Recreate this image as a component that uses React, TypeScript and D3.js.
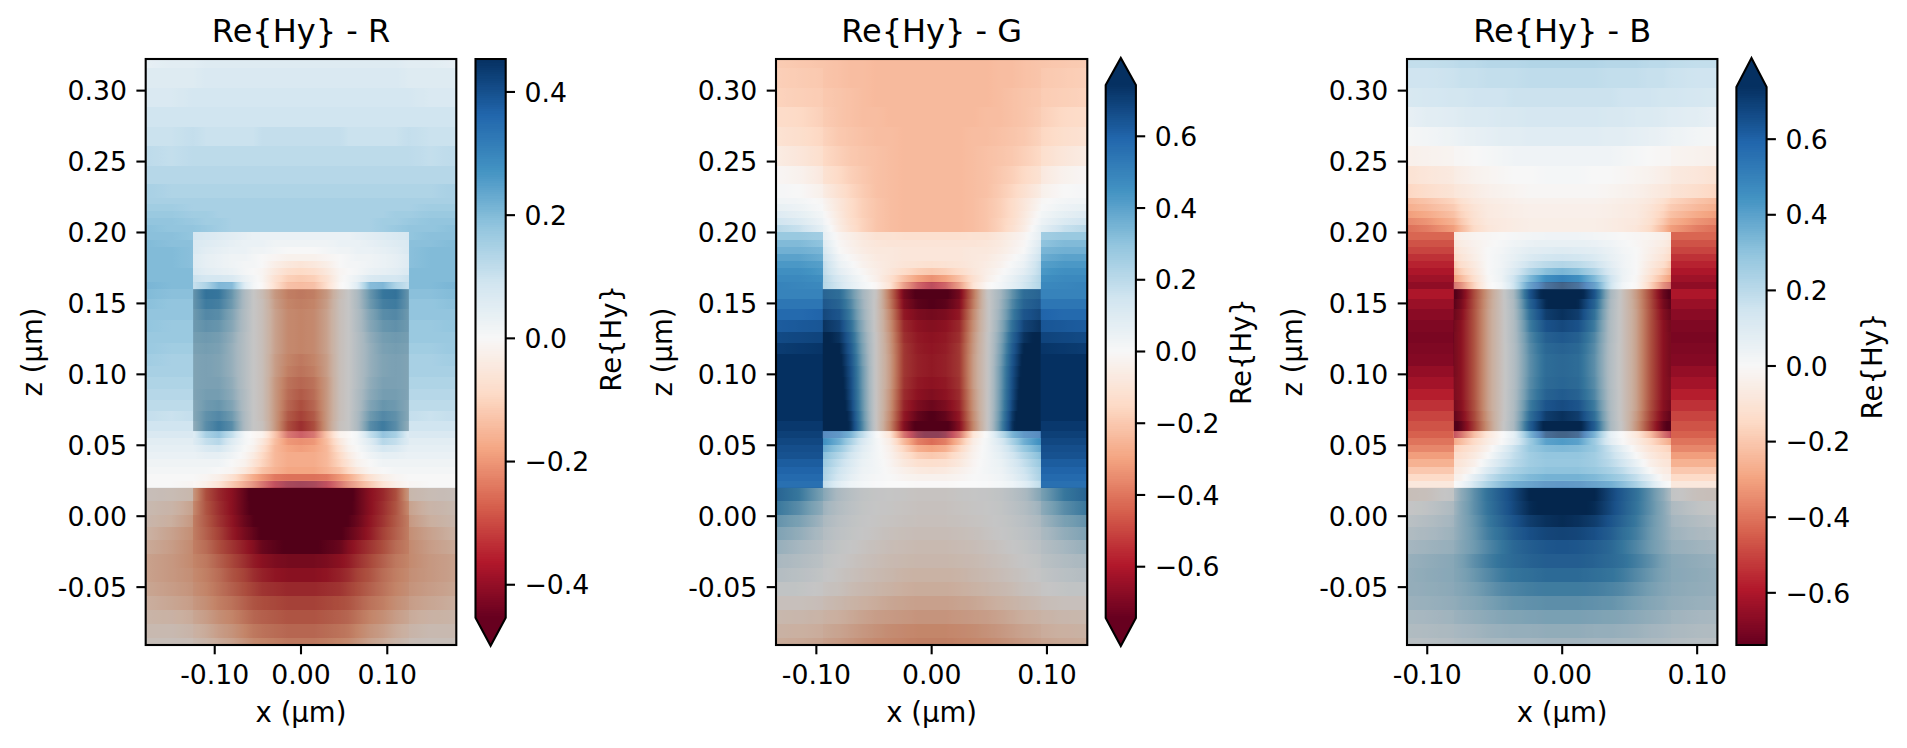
import React from "react";
import * as d3 from "d3";

// ---------- DATA (field values, in hundredths of Re{Hy}) ----------
const titles = ["Re{Hy} - R", "Re{Hy} - G", "Re{Hy} - B"];
const yTicks = [0.3, 0.25, 0.2, 0.15, 0.1, 0.05, 0, -0.05];
const xTicks = [-0.1, 0, 0.1];
const rBarTicks = [0.4, 0.2, 0, -0.2, -0.4];
const gBarTicks = [0.6, 0.4, 0.2, 0, -0.2, -0.4, -0.6];
const bBarTicks = [0.6, 0.4, 0.2, 0, -0.2, -0.4, -0.6];
const rdBu = ["#67001f", "#b2182b", "#d6604d", "#f4a582", "#fddbc7", "#f7f7f7", "#d1e5f0", "#92c5de", "#4393c3", "#2166ac", "#053061"];

// z cell edges, top to bottom (µm)
const zEdges = [
  0.3223, 0.316, 0.302, 0.2885, 0.2745, 0.261, 0.247, 0.234, 0.2245,
  0.22, 0.215, 0.21, 0.205, 0.2,
  0.195, 0.19, 0.185, 0.18, 0.175, 0.17, 0.165, 0.16,
  0.153, 0.146, 0.138, 0.13, 0.122, 0.114, 0.106, 0.098, 0.09, 0.082, 0.074, 0.067, 0.06,
  0.055, 0.05, 0.045, 0.04, 0.035, 0.03, 0.025, 0.02,
  0.0108, 0.001, -0.0075, -0.0168, -0.0267, -0.0365, -0.0464, -0.0563, -0.0661, -0.076, -0.0858, -0.0908,
];
// thin pale bands at the layer interfaces inside the pillar (z from, z to)
const tintBands = [[0.165, 0.16], [0.06, 0.055], [0.025, 0.02]];

// |x| sample positions, the repeated one is the pillar side wall (µm)
const rColumns = [0, 0.015, 0.03, 0.045, 0.055, 0.065, 0.08, 0.095, 0.11, 0.125, 0.125, 0.15, 0.18];
const gColumns = [0, 0.012, 0.024, 0.036, 0.048, 0.06, 0.07, 0.08, 0.0945, 0.0945, 0.115, 0.135];
const bColumns = [0, 0.012, 0.024, 0.036, 0.045, 0.055, 0.065, 0.075, 0.0805, 0.0805, 0.1, 0.115];

const rField = [
  [6, 6, 6, 6, 6, 6, 6, 6, 6, 5, 5, 5, 4],
  [7, 7, 7, 7, 7, 7, 7, 7, 7, 6, 6, 6, 6],
  [8, 8, 8, 8, 8, 8, 8, 8, 8, 8, 8, 7, 7],
  [9, 9, 9, 9, 9, 9, 9, 9, 9, 9, 9, 9, 9],
  [11, 11, 11, 11, 10, 10, 10, 10, 10, 11, 11, 10, 10],
  [12, 12, 12, 12, 12, 12, 12, 12, 12, 12, 12, 11, 12],
  [13, 13, 13, 13, 13, 13, 13, 13, 13, 13, 13, 13, 13],
  [14, 14, 14, 14, 14, 14, 14, 14, 14, 14, 14, 14, 15],
  [15, 15, 15, 15, 15, 15, 15, 15, 15, 15, 15, 15, 15],
  [15, 15, 15, 15, 15, 15, 15, 15, 15, 15, 15, 16, 16],
  [15, 15, 15, 15, 15, 15, 15, 15, 16, 16, 16, 17, 17],
  [15, 15, 15, 15, 15, 15, 15, 16, 16, 17, 17, 18, 18],
  [15, 15, 15, 15, 15, 15, 15, 16, 17, 18, 18, 18, 19],
  [3, 3, 3, 3, 3, 4, 5, 6, 7, 8, 18, 19, 19],
  [2, 2, 2, 3, 3, 3, 4, 5, 6, 7, 19, 19, 20],
  [0, 0, 1, 2, 2, 3, 3, 4, 5, 7, 19, 20, 20],
  [-2, -2, -1, 0, 1, 2, 2, 3, 4, 6, 19, 20, 20],
  [-6, -5, -3, 0, 1, 1, 2, 3, 4, 6, 19, 20, 20],
  [-9, -8, -5, -1, 0, 1, 3, 4, 5, 7, 20, 20, 20],
  [-12, -11, -7, -1, 1, 3, 7, 8, 8, 10, 20, 20, 20],
  [-18, -17, -10, -1, 2, 8, 24, 25, 18, 13, 20, 20, 21],
  [-20, -19, -14, -4, 0, 7, 20, 27, 28, 20, 19, 19, 20],
  [-19, -18, -13, -3, 0, 7, 19, 25, 26, 20, 18, 18, 19],
  [-18, -17, -12, -3, 0, 6, 16, 22, 23, 19, 18, 18, 18],
  [-18, -17, -12, -3, 0, 6, 15, 20, 21, 19, 17, 17, 18],
  [-18, -17, -12, -3, 0, 5, 13, 18, 19, 18, 17, 17, 17],
  [-18, -17, -12, -3, 0, 5, 12, 17, 18, 17, 16, 16, 17],
  [-20, -18, -13, -3, 0, 5, 12, 16, 17, 16, 15, 15, 16],
  [-21, -19, -13, -3, 0, 5, 12, 16, 17, 16, 15, 15, 15],
  [-23, -21, -14, -3, 0, 5, 13, 17, 17, 16, 14, 14, 14],
  [-25, -22, -14, -3, 0, 6, 14, 18, 18, 16, 13, 13, 13],
  [-27, -23, -14, -3, 0, 6, 16, 20, 19, 15, 12, 12, 12],
  [-29, -25, -14, -3, 0, 7, 19, 23, 21, 15, 11, 10, 11],
  [-32, -27, -14, -2, 0, 7, 22, 26, 22, 13, 9, 9, 9],
  [-34, -30, -16, -3, -1, 2, 14, 22, 19, 8, 7, 7, 7],
  [-21, -20, -14, -5, -1, 1, 6, 13, 11, 6, 5, 5, 5],
  [-19, -18, -15, -7, -2, 0, 4, 8, 7, 4, 4, 4, 4],
  [-17, -17, -15, -9, -4, -1, 2, 4, 4, 3, 3, 3, 3],
  [-17, -17, -15, -10, -6, -2, 0, 2, 2, 2, 2, 2, 2],
  [-18, -18, -16, -13, -9, -5, -1, 0, 1, 1, 1, 1, 1],
  [-25, -25, -24, -20, -17, -13, -7, -3, -1, 0, 0, 0, 0],
  [-42, -41, -37, -30, -25, -21, -15, -9, -4, -1, -1, 0, 0],
  [-56, -56, -54, -51, -48, -43, -37, -33, -27, -14, -6, -4, -3],
  [-56, -56, -54, -51, -47, -43, -37, -32, -26, -17, -12, -7, -5],
  [-54, -54, -52, -49, -45, -42, -36, -31, -25, -19, -14, -9, -6],
  [-50, -50, -48, -46, -43, -40, -35, -29, -24, -19, -16, -12, -8],
  [-46, -46, -44, -42, -38, -35, -31, -27, -22, -19, -17, -13, -10],
  [-40, -40, -39, -37, -35, -32, -28, -24, -20, -18, -17, -14, -12],
  [-37, -37, -36, -34, -32, -29, -26, -22, -19, -17, -16, -14, -12],
  [-33, -33, -32, -31, -29, -27, -24, -21, -18, -16, -15, -13, -11],
  [-29, -29, -28, -27, -26, -24, -21, -19, -16, -14, -13, -11, -9],
  [-26, -26, -25, -24, -23, -21, -18, -16, -13, -11, -10, -8, -7],
  [-23, -23, -22, -21, -20, -18, -15, -13, -10, -8, -7, -5, -5],
  [-20, -20, -19, -18, -17, -15, -12, -10, -7, -5, -4, -3, -3],
];

const gField = [
  [-24, -24, -24, -24, -24, -23, -23, -22, -21, -21, -20, -19],
  [-24, -24, -24, -24, -24, -23, -23, -22, -21, -20, -19, -18],
  [-24, -24, -24, -24, -24, -23, -22, -21, -20, -19, -18, -17],
  [-24, -24, -24, -24, -23, -23, -22, -21, -19, -18, -15, -14],
  [-24, -24, -24, -23, -23, -22, -21, -20, -17, -16, -13, -11],
  [-24, -24, -24, -23, -22, -21, -20, -18, -15, -13, -9, -6],
  [-24, -24, -24, -23, -22, -20, -18, -15, -11, -8, -3, -1],
  [-24, -24, -24, -23, -22, -19, -16, -12, -6, -4, 0, 1],
  [-24, -24, -24, -23, -21, -18, -14, -9, -2, -1, 2, 3],
  [-24, -24, -24, -23, -21, -18, -14, -9, -1, 0, 4, 6],
  [-24, -24, -24, -23, -21, -18, -14, -8, 1, 2, 7, 10],
  [-24, -24, -24, -23, -21, -17, -13, -7, 3, 4, 11, 15],
  [-24, -24, -24, -23, -21, -17, -12, -6, 6, 7, 17, 21],
  [-12, -12, -12, -11, -11, -8, -5, -2, 7, 26, 28, 28],
  [-10, -10, -10, -10, -9, -7, -4, -1, 10, 30, 33, 33],
  [-9, -9, -9, -8, -8, -6, -3, 0, 13, 34, 36, 36],
  [-9, -9, -9, -8, -7, -4, -1, 3, 16, 37, 40, 40],
  [-12, -11, -10, -8, -6, -3, 1, 5, 19, 41, 43, 43],
  [-20, -18, -14, -9, -5, -1, 3, 8, 20, 43, 46, 46],
  [-34, -30, -22, -12, -4, 1, 6, 12, 22, 46, 48, 48],
  [-62, -54, -38, -15, -2, 4, 11, 18, 28, 48, 49, 50],
  [-80, -76, -66, -34, -2, 16, 34, 48, 52, 50, 50, 50],
  [-74, -72, -63, -32, -3, 18, 38, 52, 57, 54, 54, 54],
  [-66, -64, -58, -28, -3, 20, 42, 58, 63, 60, 58, 58],
  [-62, -60, -54, -26, -3, 23, 47, 64, 70, 64, 63, 62],
  [-60, -58, -52, -24, -2, 26, 52, 70, 78, 69, 68, 67],
  [-59, -57, -50, -23, -2, 28, 55, 75, 84, 73, 72, 71],
  [-58, -56, -50, -22, -2, 30, 58, 78, 90, 76, 75, 75],
  [-58, -56, -50, -22, -2, 32, 60, 80, 95, 80, 78, 78],
  [-60, -58, -51, -22, -2, 32, 61, 82, 97, 82, 80, 80],
  [-63, -60, -53, -24, -2, 33, 62, 84, 98, 80, 80, 80],
  [-68, -64, -55, -25, -2, 34, 64, 86, 98, 78, 78, 78],
  [-75, -70, -58, -27, -2, 36, 68, 88, 96, 75, 75, 75],
  [-85, -78, -62, -29, -2, 38, 70, 90, 92, 72, 72, 72],
  [-78, -70, -50, -14, 2, 24, 42, 54, 60, 70, 70, 70],
  [-42, -38, -24, -6, 2, 12, 24, 36, 46, 68, 68, 68],
  [-30, -27, -16, -4, 2, 9, 18, 28, 38, 66, 66, 66],
  [-20, -18, -11, -3, 2, 7, 14, 22, 32, 65, 65, 65],
  [-13, -12, -8, -2, 2, 5, 11, 18, 28, 62, 62, 62],
  [-8, -7, -4, -1, 2, 4, 9, 15, 25, 60, 60, 60],
  [-3, -3, -2, 0, 1, 3, 7, 13, 24, 58, 58, 58],
  [-1, -1, 0, 0, 1, 3, 6, 12, 24, 56, 56, 56],
  [-2, -2, -1, 0, 1, 3, 7, 12, 25, 28, 44, 52],
  [-3, -3, -2, -1, 0, 2, 5, 9, 18, 22, 36, 44],
  [-4, -4, -3, -2, -1, 1, 3, 6, 13, 16, 28, 34],
  [-6, -6, -5, -4, -2, 0, 2, 4, 9, 12, 21, 27],
  [-8, -8, -7, -6, -4, -2, 0, 2, 6, 8, 15, 20],
  [-10, -10, -9, -8, -6, -4, -2, 0, 3, 5, 10, 14],
  [-13, -13, -12, -10, -8, -6, -4, -2, 1, 2, 6, 9],
  [-16, -16, -15, -13, -11, -9, -7, -4, -2, -1, 2, 3],
  [-20, -20, -19, -18, -16, -14, -12, -10, -7, -6, -4, -4],
  [-24, -24, -23, -22, -21, -19, -17, -15, -13, -12, -10, -9],
  [-29, -29, -28, -27, -25, -23, -21, -19, -17, -16, -14, -13],
  [-31, -31, -30, -29, -28, -26, -24, -22, -20, -19, -17, -16],
];

const bField = [
  [22, 22, 22, 21, 21, 21, 20, 20, 19, 19, 18, 18],
  [19, 19, 19, 18, 18, 18, 17, 17, 16, 16, 15, 15],
  [16, 16, 16, 16, 15, 15, 15, 14, 14, 14, 13, 12],
  [13, 13, 13, 12, 12, 11, 11, 10, 9, 9, 8, 6],
  [9, 9, 9, 8, 8, 7, 6, 5, 4, 4, 2, 1],
  [3, 3, 3, 3, 2, 1, 0, -1, -1, -2, -3, -4],
  [1, 1, 0, 0, -1, -2, -3, -5, -6, -7, -9, -11],
  [-1, -1, -1, -2, -3, -4, -6, -8, -9, -10, -13, -16],
  [-3, -3, -3, -4, -5, -6, -8, -12, -16, -16, -21, -24],
  [-4, -4, -4, -5, -6, -7, -10, -15, -19, -19, -24, -27],
  [-4, -4, -4, -5, -6, -7, -11, -17, -22, -22, -28, -31],
  [-5, -5, -5, -6, -7, -8, -12, -20, -26, -26, -33, -36],
  [-5, -5, -5, -6, -7, -9, -14, -24, -31, -31, -38, -41],
  [3, 3, 2, 1, 0, -1, -2, -4, -7, -43, -43, -43],
  [6, 6, 5, 3, 1, -1, -3, -6, -9, -47, -47, -47],
  [10, 9, 8, 5, 2, 0, -4, -8, -12, -50, -50, -50],
  [15, 14, 11, 6, 3, 0, -5, -10, -15, -54, -54, -54],
  [22, 20, 16, 8, 3, 0, -7, -13, -20, -57, -57, -57],
  [34, 31, 23, 11, 4, 0, -9, -18, -25, -60, -60, -60],
  [50, 46, 33, 15, 4, -1, -12, -24, -31, -63, -63, -63],
  [74, 68, 50, 19, 4, -2, -20, -42, -50, -66, -66, -66],
  [85, 80, 58, 14, -4, -22, -44, -68, -76, -60, -60, -60],
  [78, 73, 52, 12, -4, -21, -43, -65, -72, -64, -64, -64],
  [70, 66, 46, 11, -4, -20, -42, -62, -68, -67, -67, -67],
  [62, 59, 42, 10, -4, -20, -42, -60, -66, -69, -69, -69],
  [56, 53, 38, 10, -4, -20, -42, -60, -65, -70, -70, -70],
  [52, 50, 36, 9, -4, -20, -42, -60, -65, -69, -69, -69],
  [50, 48, 35, 9, -4, -20, -42, -60, -65, -68, -68, -68],
  [50, 48, 35, 9, -4, -20, -42, -60, -65, -65, -65, -65],
  [51, 49, 36, 9, -4, -20, -42, -60, -64, -62, -62, -62],
  [55, 52, 38, 10, -4, -20, -42, -60, -64, -58, -58, -58],
  [61, 58, 42, 11, -4, -20, -43, -61, -66, -54, -54, -54],
  [70, 66, 47, 12, -4, -22, -45, -64, -70, -50, -50, -50],
  [84, 78, 54, 13, -3, -24, -48, -70, -78, -47, -47, -47],
  [75, 70, 42, 10, -1, -12, -28, -50, -60, -44, -44, -44],
  [42, 40, 27, 8, 0, -6, -14, -23, -28, -40, -40, -40],
  [33, 32, 28, 16, 6, -3, -10, -15, -17, -36, -36, -36],
  [29, 29, 26, 18, 10, 0, -7, -12, -13, -31, -31, -31],
  [28, 28, 26, 20, 14, 5, -4, -9, -10, -26, -26, -26],
  [30, 30, 28, 24, 19, 11, 0, -6, -7, -20, -20, -20],
  [35, 35, 33, 29, 25, 18, 8, -3, -4, -14, -14, -14],
  [54, 53, 49, 44, 38, 30, 18, 4, -1, -8, -8, -8],
  [82, 80, 74, 63, 55, 46, 35, 22, 12, 2, -4, -5],
  [78, 76, 72, 62, 54, 45, 35, 24, 16, 12, 3, 0],
  [72, 70, 66, 58, 51, 43, 33, 24, 18, 16, 9, 5],
  [64, 63, 60, 54, 47, 41, 32, 24, 19, 18, 13, 10],
  [58, 57, 54, 50, 44, 38, 31, 25, 21, 20, 17, 15],
  [54, 54, 52, 49, 46, 41, 35, 28, 25, 24, 21, 19],
  [49, 49, 47, 45, 42, 37, 32, 27, 25, 24, 22, 20],
  [42, 42, 41, 39, 37, 33, 29, 25, 24, 23, 21, 20],
  [35, 35, 34, 33, 31, 28, 25, 23, 21, 21, 19, 18],
  [28, 28, 27, 26, 25, 23, 21, 19, 18, 17, 15, 14],
  [21, 21, 20, 20, 19, 18, 16, 15, 14, 13, 11, 10],
  [16, 16, 15, 15, 14, 14, 12, 11, 10, 9, 7, 6],
];

// ---------- LAYOUT ----------
const FONT = "'DejaVu Sans', sans-serif";
const TICK_PT = 26.7;
const LABEL_PT = 27.5;
const TITLE_PT = 32;
const AXIS_TOP = 59;
const AXIS_BOTTOM = 645;
const ZLIM: [number, number] = [0.3223, -0.0908];
const OVERLAY = "rgba(0,0,0,0.2)";
const TINT = "rgba(255,255,255,0.25)";
const LINE = 2.1;
const TICK_LEN = 9.3;
const TICK_GAP = 18.8;

const panels = [
  { title: titles[0], columns: rColumns, field: rField, barTicks: rBarTicks, x0: 145.7, x1: 456.3, xMax: 0.18, wall: 0.125, vMax: 0.4535, bar0: 475.5, bar1: 505.7, barTop: 59, barBottom: 617.7, tipTop: null as number | null, tipBottom: 645.7 as number | null, zLabelX: 41.6, barLabelX: 621 },
  { title: titles[1], columns: gColumns, field: gField, barTicks: gBarTicks, x0: 776, x1: 1087.3, xMax: 0.135, wall: 0.0945, vMax: 0.743, bar0: 1105.7, bar1: 1135.9, barTop: 85, barBottom: 618, tipTop: 58 as number | null, tipBottom: 646 as number | null, zLabelX: 671.8, barLabelX: 1251 },
  { title: titles[2], columns: bColumns, field: bField, barTicks: bBarTicks, x0: 1407, x1: 1717.4, xMax: 0.115, wall: 0.0805, vMax: 0.738, bar0: 1736.4, bar1: 1766.6, barTop: 87, barBottom: 645, tipTop: 58 as number | null, tipBottom: null as number | null, zLabelX: 1301.7, barLabelX: 1882 },
];

const cellColor = (vMax: number) =>
  d3.scaleLinear<string>()
    .domain(d3.range(11).map((i) => -vMax + (2 * vMax * i) / 10))
    .range(rdBu)
    .interpolate(d3.interpolateRgb)
    .clamp(true);

const hyphen = (t: number) => d3.format(".2f")(t).replace("\u2212", "-");
const barFmt = (t: number) => d3.format(".1f")(t).replace("-", "\u2212");

function Panel({ p, idx }: { p: (typeof panels)[number]; idx: number }) {
  const x = d3.scaleLinear().domain([-p.xMax, p.xMax]).range([p.x0, p.x1]);
  const y = d3.scaleLinear().domain(ZLIM).range([AXIS_TOP, AXIS_BOTTOM]);
  const color = cellColor(p.vMax);
  const barY = d3.scaleLinear().domain([p.vMax, -p.vMax]).range([p.barTop, p.barBottom]);
  const levels = d3.range(256);
  const cx = (p.x0 + p.x1) / 2;
  const cz = (AXIS_TOP + AXIS_BOTTOM) / 2;
  const barC = (p.bar0 + p.bar1) / 2;
  const barMid = (p.barTop + p.barBottom) / 2;

  // mirrored sample list, left wall to right wall
  const signed = [
    ...p.columns.map((c, i) => ({ pos: -c, i })).reverse(),
    ...p.columns.map((c, i) => ({ pos: c, i })).slice(1),
  ];
  const span = x(p.xMax) - x(-p.xMax);
  const stopsFor = (row: number[]) => {
    const out: { o: number; c: string }[] = [];
    signed.forEach((s, k) => {
      const v = row[s.i] / 100;
      out.push({ o: (x(s.pos) - p.x0) / span, c: color(v) });
      const n = signed[k + 1];
      if (n && n.pos > s.pos) {
        const w = row[n.i] / 100;
        const steps = d3.scaleLinear().domain([0, 6]).range([v, w]);
        const sx = d3.scaleLinear().domain([0, 6]).range([s.pos, n.pos]);
        for (let q = 1; q < 6; q++) out.push({ o: (x(sx(q)) - p.x0) / span, c: color(steps(q)) });
      }
    });
    return out;
  };

  const outline = [
    `M${p.bar0},${p.barTop}`,
    p.tipTop != null ? `L${barC},${p.tipTop}` : "",
    `L${p.bar1},${p.barTop}L${p.bar1},${p.barBottom}`,
    p.tipBottom != null ? `L${barC},${p.tipBottom}` : "",
    `L${p.bar0},${p.barBottom}Z`,
  ].join("");

  return (
    <g fontFamily={FONT} fill="#000">
      <defs>
        {p.field.map((row, j) => (
          <linearGradient key={j} id={`f${idx}r${j}`} gradientUnits="userSpaceOnUse" x1={p.x0} x2={p.x1} y1={0} y2={0}>
            {stopsFor(row).map((s, k) => (
              <stop key={k} offset={s.o} stopColor={s.c} />
            ))}
          </linearGradient>
        ))}
      </defs>
      {p.field.map((_, j) => (
        <rect key={j} x={p.x0} width={p.x1 - p.x0} y={Math.round(y(zEdges[j]))} height={Math.round(y(zEdges[j + 1])) - Math.round(y(zEdges[j]))} fill={`url(#f${idx}r${j})`} shapeRendering="crispEdges" />
      ))}
      {/* material overlays */}
      {tintBands.map(([a, b]) => (
        <rect key={a} x={x(-p.wall)} width={x(p.wall) - x(-p.wall)} y={y(a)} height={y(b) - y(a)} fill={TINT} />
      ))}
      <rect x={x(-p.wall)} width={x(p.wall) - x(-p.wall)} y={y(0.16)} height={y(0.06) - y(0.16)} fill={OVERLAY} />
      <rect x={p.x0} width={p.x1 - p.x0} y={y(0.02)} height={AXIS_BOTTOM - y(0.02)} fill={OVERLAY} />
      <rect x={p.x0} y={AXIS_TOP} width={p.x1 - p.x0} height={AXIS_BOTTOM - AXIS_TOP} fill="none" stroke="#000" strokeWidth={LINE} />
      {yTicks.map((t) => (
        <g key={t}>
          <line x1={p.x0 - TICK_LEN} x2={p.x0} y1={y(t)} y2={y(t)} stroke="#000" strokeWidth={LINE} />
          <text x={p.x0 - TICK_GAP} y={y(t) + 9.7} textAnchor="end" fontSize={TICK_PT}>{hyphen(t)}</text>
        </g>
      ))}
      {xTicks.map((t) => (
        <g key={t}>
          <line x1={x(t)} x2={x(t)} y1={AXIS_BOTTOM} y2={AXIS_BOTTOM + TICK_LEN} stroke="#000" strokeWidth={LINE} />
          <text x={x(t)} y={684} textAnchor="middle" fontSize={TICK_PT}>{hyphen(t)}</text>
        </g>
      ))}
      <text x={cx} y={722} textAnchor="middle" fontSize={LABEL_PT}>x (µm)</text>
      <text transform={`translate(${p.zLabelX},${cz}) rotate(-90)`} textAnchor="middle" fontSize={LABEL_PT}>z (µm)</text>
      <text x={cx} y={41.5} textAnchor="middle" fontSize={TITLE_PT}>{p.title}</text>

      {/* colourbar */}
      {levels.map((l) => {
        const hi = p.vMax - (2 * p.vMax * l) / 256;
        const lo = p.vMax - (2 * p.vMax * (l + 1)) / 256;
        return <rect key={l} x={p.bar0} width={p.bar1 - p.bar0} y={barY(hi)} height={barY(lo) - barY(hi) + 0.5} fill={color((hi + lo) / 2)} shapeRendering="crispEdges" />;
      })}
      {p.tipTop != null && <path d={`M${p.bar0},${p.barTop}L${barC},${p.tipTop}L${p.bar1},${p.barTop}Z`} fill={rdBu[10]} />}
      {p.tipBottom != null && <path d={`M${p.bar0},${p.barBottom}L${barC},${p.tipBottom}L${p.bar1},${p.barBottom}Z`} fill={rdBu[0]} />}
      <path d={outline} fill="none" stroke="#000" strokeWidth={LINE} strokeLinejoin="miter" />
      {p.barTicks.map((t) => (
        <g key={t}>
          <line x1={p.bar1} x2={p.bar1 + TICK_LEN} y1={barY(t)} y2={barY(t)} stroke="#000" strokeWidth={LINE} />
          <text x={p.bar1 + TICK_GAP} y={barY(t) + 9.7} fontSize={TICK_PT}>{barFmt(t)}</text>
        </g>
      ))}
      <text transform={`translate(${p.barLabelX},${barMid}) rotate(-90)`} textAnchor="middle" fontSize={LABEL_PT}>Re{"{"}Hy{"}"}</text>
    </g>
  );
}

export default function App() {
  return (
    <svg width={1907} height={748} viewBox="0 0 1907 748" style={{ position: "absolute", left: 0, top: 0, background: "#fff" }}>
      {panels.map((p, i) => (
        <Panel key={p.title} p={p} idx={i} />
      ))}
    </svg>
  );
}
